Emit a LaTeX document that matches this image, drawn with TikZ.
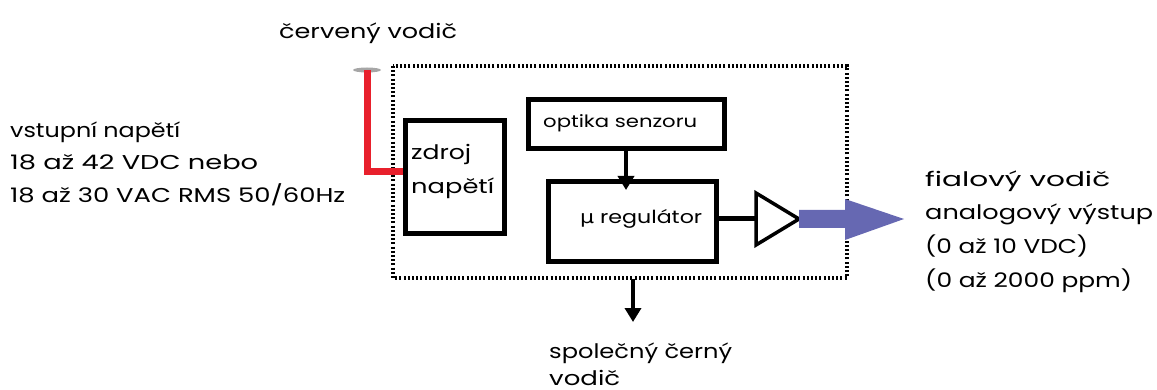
\documentclass[tikz,border=0pt]{standalone}
\usepackage{graphicx}
\usepackage{fontspec}
\setmainfont{Poppins}
\newfontfamily\symfont{DejaVu Sans}
\usetikzlibrary{arrows.meta}
\newcommand\fw[2]{\resizebox{#1pt}{\height}{#2}}
\begin{document}
\begin{tikzpicture}[x=1pt,y=-1pt,
  txt/.style={font=\fontsize{20}{33}\selectfont, inner sep=0pt, anchor=base west},
  blk/.style={draw=black, line width=5pt, fill=white},
  arr/.style={line width=4pt, -{Triangle[length=14pt,width=16pt]}},
  frame/.style={draw=black, line width=4pt, dash pattern=on 2pt off 2.2pt}
]
\useasboundingbox (0,0) rectangle (1157,390);
% dotted frame
\draw[frame] (393,66) rectangle (847,278);
% red wire
\coordinate (cap) at (367,70);
\fill[gray!70] (cap) ellipse (14pt and 2.5pt);
\coordinate (bend) at (367,172);
% blocks
\node[blk, minimum width=99pt, minimum height=113pt, anchor=north west] (zdroj) at (403,118) {};
\node[txt] (zdrojt1) at (411,160) {\fw{60}{zdroj}};
\node[txt] (zdrojt2) at (411,194) {\fw{83}{napětí}};
\draw[line width=7pt, draw={rgb,255:red,232;green,32;blue,44}] (cap) -- (bend) -- (zdroj.west |- bend);
\node[blk, minimum width=196pt, minimum height=49pt, anchor=north west] (opt) at (526,97) {};
\node[txt, font=\fontsize{17}{20}\selectfont] (optt) at (543,128) {\fw{154}{optika senzoru}};
\node[blk, minimum width=168pt, minimum height=80pt, anchor=north west] (reg) at (546,179) {};
\node[txt, font=\fontsize{18}{20}\selectfont] (regt) at (580,224) {\fw{122}{{\symfont μ} regulátor}};
\draw[arr] (opt.south -| 626,0) -- (626,190);
% amplifier
\coordinate (ta) at (756,193);
\coordinate (tb) at (756,245);
\coordinate (tc) at (799,219);
\draw[line width=3.5pt, line join=miter, fill=white] (ta) -- (tc) -- (tb) -- cycle;
\draw[line width=5pt] (reg.east |- tc) -- (756,219);
% blue arrow
\fill[fill={rgb,255:red,102;green,104;blue,178}] (tc) ++(0,-9) -- (845,210) -- (845,199) -- (904,219) -- (845,240) -- (845,228) -- (799,228) -- cycle;
% ground arrow
\coordinate (gnd) at (633,322);
\draw[arr] (633,279) -- (gnd);
% texts
\node[txt] (cerv) at (279,39) {\fw{178}{červený vodič}};
\node[txt] (vst1) at (10,138) {\fw{170}{vstupní napětí}};
\node[txt] (vst2) at (10,170) {\fw{248}{18 až 42 VDC nebo}};
\node[txt] (vst3) at (10,203) {\fw{335}{18 až 30 VAC RMS 50/60Hz}};
\node[txt] (out1) at (925,187) {\fw{185}{fialový vodič}};
\node[txt] (out2) at (925,220) {\fw{228}{analogový výstup}};
\node[txt] (out3) at (925,254) {\fw{163}{(0 až 10 VDC)}};
\node[txt] (out4) at (925,288) {\fw{207}{(0 až 2000 ppm)}};
\node[txt] (spol1) at (549,358) {\fw{183}{společný černý}};
\node[txt] (spol2) at (549,385) {\fw{71}{vodič}};
\end{tikzpicture}
\end{document}
